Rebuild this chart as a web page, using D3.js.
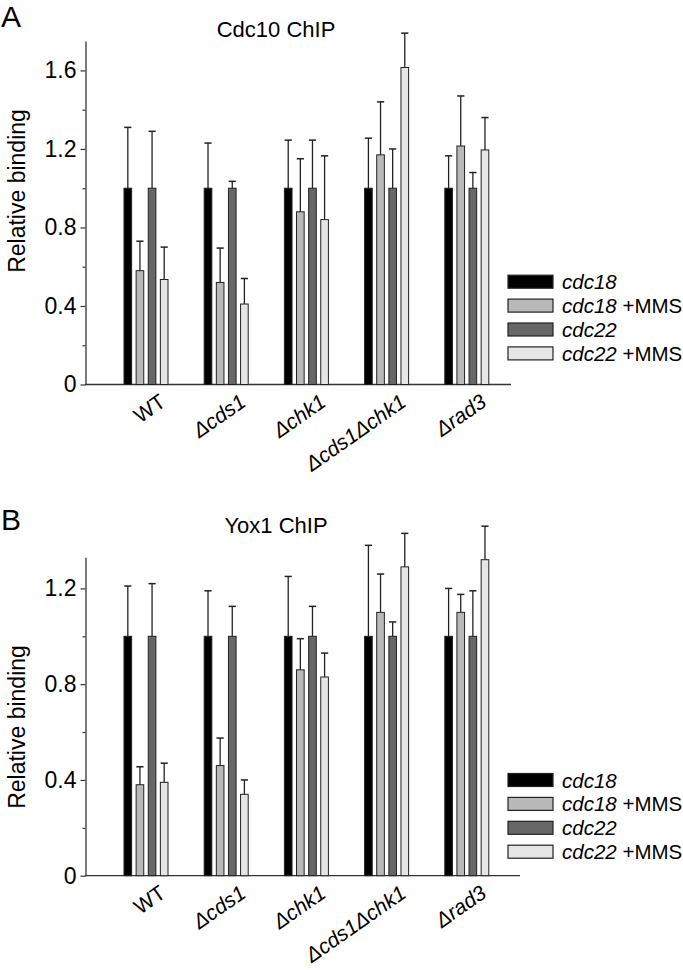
<!DOCTYPE html>
<html>
<head>
<meta charset="utf-8">
<script src="https://cdn.jsdelivr.net/npm/d3@7"></script>
<style>
  html, body { margin: 0; padding: 0; background: #fff; }
  svg { display: block; }
  text { font-family: "Liberation Sans", Arial, Helvetica, sans-serif; fill: #000; }
</style>
</head>
<body>
<svg id="chart" width="683" height="970"></svg>
<script>
// ---------- data ----------
const groups = ["WT", "Δcds1", "Δchk1", "Δcds1Δchk1", "Δrad3"];
const series = ["cdc18", "cdc18 +MMS", "cdc22", "cdc22 +MMS"];
const seriesColors = ["#000000", "#b9b9b9", "#676767", "#e6e6e6"];

// Panel A: Cdc10 ChIP (means and SD)
const cdc10_cdc18      = [1.00, 1.00, 1.00, 1.00, 1.00];
const cdc10_cdc18_sd   = [0.31, 0.23, 0.245, 0.255, 0.165];
const cdc10_cdc18MMS   = [0.58, 0.52, 0.88, 1.17, 1.215];
const cdc10_cdc18MMS_sd= [0.15, 0.175, 0.27, 0.27, 0.255];
const cdc10_cdc22      = [1.00, 1.00, 1.00, 1.00, 1.00];
const cdc10_cdc22_sd   = [0.29, 0.035, 0.245, 0.20, 0.08];
const cdc10_cdc22MMS   = [0.535, 0.41, 0.84, 1.615, 1.195];
const cdc10_cdc22MMS_sd= [0.165, 0.13, 0.325, 0.175, 0.165];

// Panel B: Yox1 ChIP
const yox1_cdc18       = [1.00, 1.00, 1.00, 1.00, 1.00];
const yox1_cdc18_sd    = [0.21, 0.19, 0.25, 0.38, 0.20];
const yox1_cdc18MMS    = [0.38, 0.46, 0.86, 1.10, 1.10];
const yox1_cdc18MMS_sd = [0.075, 0.115, 0.13, 0.16, 0.075];
const yox1_cdc22       = [1.00, 1.00, 1.00, 1.00, 1.00];
const yox1_cdc22_sd    = [0.22, 0.125, 0.125, 0.06, 0.19];
const yox1_cdc22MMS    = [0.39, 0.34, 0.83, 1.29, 1.32];
const yox1_cdc22MMS_sd = [0.08, 0.06, 0.10, 0.14, 0.14];

const majorTicks = [0, 0.4, 0.8, 1.2, 1.6];
const minorTicks = [0.2, 0.6, 1.0, 1.4];

// ---------- drawing ----------
const svg = d3.select("#chart");
const FONT = "\"Liberation Sans\", Arial, Helvetica, sans-serif";

function drawPanel(opt) {
  const g = svg.append("g");
  const x = d3.scalePoint().domain(groups).range([146, 466.8]);
  const xs = d3.scaleBand().domain(series).range([-22, 22]).paddingInner(0.37);
  const y = d3.scaleLinear().domain([0, opt.yMax]).range([opt.y0, opt.yTop]);

  // panel letter + title
  g.append("text").attr("x", 1).attr("y", opt.letterY)
    .attr("font-size", 30).text(opt.letter);
  g.append("text").attr("x", 276).attr("y", opt.titleY)
    .attr("text-anchor", "middle").attr("font-size", 22).text(opt.title);

  // y axis title
  g.append("text")
    .attr("transform", `translate(25,${opt.yTitleC}) rotate(-90)`)
    .attr("text-anchor", "middle").attr("font-size", 23)
    .text("Relative binding");

  // y axis (major + minor ticks)
  const yAxis = d3.axisLeft(y)
    .tickValues(majorTicks.filter(v => v <= opt.yMax))
    .tickFormat(d => d === 0 ? "0" : d.toFixed(1))
    .tickSize(5).tickSizeOuter(0).tickPadding(4);
  const ya = g.append("g").attr("transform", "translate(85.5,0)").call(yAxis);
  ya.select(".domain").attr("stroke", "#333").attr("stroke-width", 1.3);
  ya.selectAll(".tick line").attr("stroke", "#333").attr("stroke-width", 1.2);
  ya.selectAll(".tick text").attr("font-size", 23).attr("font-family", FONT).attr("fill", "#000");

  const yMinor = d3.axisLeft(y)
    .tickValues(minorTicks.filter(v => v <= opt.yMax))
    .tickFormat("").tickSize(3).tickSizeOuter(0);
  const ym = g.append("g").attr("transform", "translate(85.5,0)").call(yMinor);
  ym.select(".domain").remove();
  ym.selectAll(".tick line").attr("stroke", "#333").attr("stroke-width", 1.2);

  // x axis line
  g.append("line").attr("x1", 85).attr("x2", opt.xEnd)
    .attr("y1", y(0)).attr("y2", y(0))
    .attr("stroke", "#333").attr("stroke-width", 1.3);

  // bars
  opt.means.forEach((vals, si) => {
    const s = series[si];
    const sds = opt.sds[si];
    const sg = g.append("g");
    sg.selectAll("rect").data(vals).enter().append("rect")
      .attr("x", (d, i) => x(groups[i]) + xs(s))
      .attr("width", xs.bandwidth())
      .attr("y", d => y(d))
      .attr("height", d => y(0) - y(d))
      .attr("fill", seriesColors[si])
      .attr("stroke", "#222").attr("stroke-width", 1);
    // error bars
    const eb = sg.selectAll("g.err").data(vals).enter().append("g").attr("class", "err");
    eb.append("line")
      .attr("x1", (d, i) => x(groups[i]) + xs(s) + xs.bandwidth() / 2)
      .attr("x2", (d, i) => x(groups[i]) + xs(s) + xs.bandwidth() / 2)
      .attr("y1", d => y(d))
      .attr("y2", (d, i) => y(d + sds[i]))
      .attr("stroke", "#222").attr("stroke-width", 1.3);
    eb.append("line")
      .attr("x1", (d, i) => x(groups[i]) + xs(s) + xs.bandwidth() / 2 - 3.6)
      .attr("x2", (d, i) => x(groups[i]) + xs(s) + xs.bandwidth() / 2 + 3.6)
      .attr("y1", (d, i) => y(d + sds[i]))
      .attr("y2", (d, i) => y(d + sds[i]))
      .attr("stroke", "#222").attr("stroke-width", 1.5);
  });

  // x labels
  g.selectAll("text.xl").data(groups).enter().append("text")
    .attr("class", "xl")
    .attr("transform", d => `translate(${x(d) + 21},${y(0) + 20.5}) rotate(-35)`)
    .attr("text-anchor", "end")
    .attr("font-size", 21)
    .attr("font-style", d => d === "WT" ? "normal" : "italic")
    .text(d => d);

  // legend
  const lg = g.append("g");
  series.forEach((s, i) => {
    const cy = opt.legY + i * 23.9;
    lg.append("rect").attr("x", 508).attr("y", cy - 6.5).attr("width", 45).attr("height", 13)
      .attr("fill", seriesColors[i]).attr("stroke", "#222").attr("stroke-width", 1.2);
    const parts = s.split(" ");
    const t = lg.append("text").attr("x", 562).attr("y", cy + 7.5).attr("font-size", 20.5);
    t.append("tspan").attr("font-style", "italic").text(parts[0]);
    if (parts[1]) t.append("tspan").text(" " + parts[1]);
  });
}

drawPanel({
  letter: "A", letterY: 27, title: "Cdc10 ChIP", titleY: 37,
  yMax: 1.75, y0: 384.5, yTop: 41, yTitleC: 191, xEnd: 511, legY: 281.7,
  means: [cdc10_cdc18, cdc10_cdc18MMS, cdc10_cdc22, cdc10_cdc22MMS],
  sds: [cdc10_cdc18_sd, cdc10_cdc18MMS_sd, cdc10_cdc22_sd, cdc10_cdc22MMS_sd]
});

drawPanel({
  letter: "B", letterY: 530, title: "Yox1 ChIP", titleY: 533,
  yMax: 1.33, y0: 875.7, yTop: 557.3, yTitleC: 727, xEnd: 520, legY: 780,
  means: [yox1_cdc18, yox1_cdc18MMS, yox1_cdc22, yox1_cdc22MMS],
  sds: [yox1_cdc18_sd, yox1_cdc18MMS_sd, yox1_cdc22_sd, yox1_cdc22MMS_sd]
});
</script>
</body>
</html>
